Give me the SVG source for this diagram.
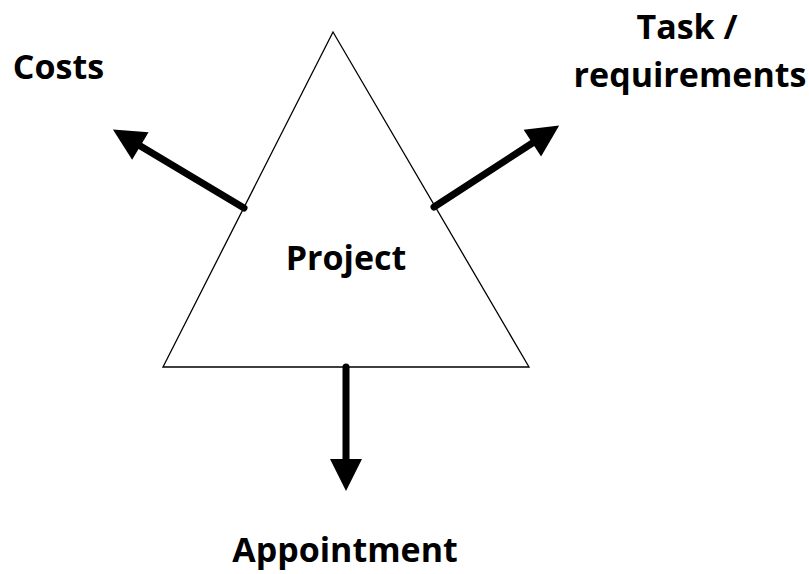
<svg xmlns="http://www.w3.org/2000/svg" width="809" height="574" viewBox="0 0 809 574">
  <style>
    .label { font-family: "Open Sans", "Liberation Sans", sans-serif; font-weight: bold; font-size: 34px; fill: #000; text-anchor: middle; }
    .arrow { stroke: #000; stroke-width: 7; stroke-linecap: round; fill: none; marker-end: url(#head); }
  </style>
  <defs>
    <marker id="head" markerUnits="userSpaceOnUse" markerWidth="34" markerHeight="34" viewBox="0 -17 34 34" refX="1" refY="0" orient="auto" overflow="visible">
      <path d="M0,-16 L32,0 L0,16 Z" fill="#000"/>
    </marker>
  </defs>
  <rect width="809" height="574" fill="#fff"/>

  <g id="project">
    <polygon points="333,32 163,367 529,367" fill="#fff" stroke="#000" stroke-width="1.3"/>
    <text class="label" x="346" y="270">Project</text>
  </g>

  <g id="costs">
    <text class="label" x="58.5" y="79">Costs</text>
  </g>

  <g id="task">
    <text class="label" x="687" y="39">Task /</text>
    <text class="label" x="690" y="87">requirements</text>
  </g>

  <g id="appointment">
    <text class="label" x="345" y="562">Appointment</text>
  </g>

  <g id="connectors">
    <line class="arrow" x1="244" y1="208" x2="139.5" y2="145.4"/>
    <line class="arrow" x1="434" y1="207" x2="533.2" y2="142.5"/>
    <line class="arrow" x1="346" y1="367" x2="346" y2="460"/>
  </g>
</svg>
